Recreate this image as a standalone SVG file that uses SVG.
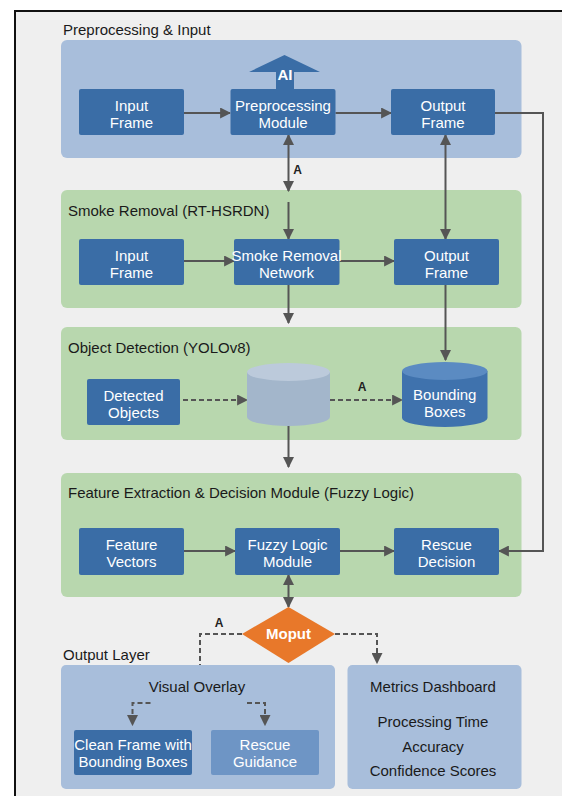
<svg xmlns="http://www.w3.org/2000/svg" width="562" height="796" viewBox="0 0 562 796">
<defs>
<style>
.bg{fill:#efefef}
.pb{fill:#a8bedb}
.pg{fill:#b8d7ae}
.node{fill:#3a6da6}
.t{font-family:"Liberation Sans",Arial,sans-serif;font-size:15px;fill:#ffffff;text-anchor:middle}
.title{font-family:"Liberation Sans",Arial,sans-serif;font-size:15px;fill:#1a1a1a}
.dk{font-family:"Liberation Sans",Arial,sans-serif;font-size:15px;fill:#1a1a1a;text-anchor:middle}
.lbl{font-family:"Liberation Sans",Arial,sans-serif;font-size:12px;font-weight:bold;fill:#222;text-anchor:middle}
.c{fill:none;stroke:#555;stroke-width:2}
.d{fill:none;stroke:#555;stroke-width:2;stroke-dasharray:5,3}
</style>
<marker id="ah" viewBox="0 0 10 10" refX="9" refY="5" markerWidth="5.5" markerHeight="5.5" orient="auto-start-reverse" markerUnits="strokeWidth">
<path d="M0,0 L10,5 L0,10 z" fill="#555"/>
</marker>
</defs>
<rect x="0" y="0" width="562" height="796" fill="#ffffff"/>
<rect class="bg" x="15" y="11" width="560" height="800" stroke="#111" stroke-width="2"/>

<g id="panel-preprocessing">
<rect class="pb" x="61" y="40" width="460.5" height="118" rx="6"/>
<text class="title" x="63" y="35">Preprocessing &amp; Input</text>
</g>
<g id="panel-smoke">
<rect class="pg" x="61" y="190" width="460.5" height="118" rx="6"/>
<text class="title" x="68" y="216">Smoke Removal (RT-HSRDN)</text>
</g>
<g id="panel-detection">
<rect class="pg" x="61" y="327" width="460.5" height="113" rx="6"/>
<text class="title" x="68" y="353">Object Detection (YOLOv8)</text>
</g>
<g id="panel-feature">
<rect class="pg" x="61" y="473" width="460.5" height="124" rx="6"/>
<text class="title" x="68" y="498">Feature Extraction &amp; Decision Module (Fuzzy Logic)</text>
</g>
<g id="panel-output">
<text class="title" x="63" y="660">Output Layer</text>
</g>
<g id="visual-overlay">
<rect class="pb" x="61" y="665" width="274" height="124" rx="5"/>
<text class="dk" x="197" y="692">Visual Overlay</text>
</g>
<g id="metrics-dashboard">
<rect class="pb" x="347.5" y="665" width="174" height="124" rx="5"/>
<text class="dk" x="433" y="692">Metrics Dashboard</text>
<text class="dk" x="433" y="727">Processing Time</text>
<text class="dk" x="433" y="752">Accuracy</text>
<text class="dk" x="433" y="776">Confidence Scores</text>
</g>

<g id="connectors">
<line class="c" x1="184" y1="113" x2="230" y2="113" marker-end="url(#ah)"/>
<line class="c" x1="335.5" y1="113" x2="391" y2="113" marker-end="url(#ah)"/>
<line class="c" x1="288.5" y1="135" x2="288.5" y2="191" marker-start="url(#ah)" marker-end="url(#ah)"/>
<line class="c" x1="445.5" y1="135" x2="445.5" y2="239" marker-start="url(#ah)" marker-end="url(#ah)"/>
<path class="c" d="M495,113 H543 V551 H499" marker-end="url(#ah)"/>
<line class="c" x1="288.5" y1="202" x2="288.5" y2="239" marker-end="url(#ah)"/>
<line class="c" x1="184" y1="261" x2="234" y2="261" marker-end="url(#ah)"/>
<line class="c" x1="339.5" y1="261" x2="394" y2="261" marker-end="url(#ah)"/>
<line class="c" x1="288.5" y1="285" x2="288.5" y2="323" marker-end="url(#ah)"/>
<line class="c" x1="445.5" y1="285" x2="445.5" y2="360" marker-end="url(#ah)"/>
<line class="d" x1="183" y1="400" x2="247" y2="400" marker-end="url(#ah)"/>
<line class="d" x1="330" y1="400" x2="402" y2="400" marker-end="url(#ah)"/>
<line class="c" x1="288.5" y1="426" x2="288.5" y2="467" marker-end="url(#ah)"/>
<line class="c" x1="184" y1="551" x2="235" y2="551" marker-end="url(#ah)"/>
<line class="c" x1="340" y1="551" x2="394" y2="551" marker-end="url(#ah)"/>
<line class="c" x1="288.5" y1="575" x2="288.5" y2="607" marker-start="url(#ah)" marker-end="url(#ah)"/>
<path class="d" d="M242,634 H200 V665"/>
<path class="d" d="M335,634 H377 V663" marker-end="url(#ah)"/>
<path class="d" d="M150.5,703 H132.5 V725" marker-end="url(#ah)"/>
<path class="d" d="M247,703 H265 V725" marker-end="url(#ah)"/>
<text class="lbl" x="297.5" y="174">A</text>
<text class="lbl" x="362" y="391">A</text>
<text class="lbl" x="219" y="627">A</text>
</g>

<g id="ai-arrow">
<path d="M276,90 V72 H249 L284.5,55 L320,72 H294 V90 Z" fill="#3a6da6"/>
<text class="t" x="285" y="80" font-weight="bold" font-size="14">AI</text>
</g>

<g id="input-frame-1">
<rect class="node" x="79" y="89" width="105" height="46" rx="2"/>
<text class="t" x="131.5" y="110.5">Input<tspan x="131.5" dy="17">Frame</tspan></text>
</g>
<g id="preprocessing-module">
<rect class="node" x="230.5" y="89" width="105" height="46" rx="2"/>
<text class="t" x="283" y="110.5">Preprocessing<tspan x="283" dy="17">Module</tspan></text>
</g>
<g id="output-frame-1">
<rect class="node" x="391" y="89" width="104" height="46" rx="2"/>
<text class="t" x="443" y="110.5">Output<tspan x="443" dy="17">Frame</tspan></text>
</g>

<g id="input-frame-2">
<rect class="node" x="79" y="239" width="105" height="46" rx="2"/>
<text class="t" x="131.5" y="260.5">Input<tspan x="131.5" dy="17">Frame</tspan></text>
</g>
<g id="smoke-removal-network">
<rect class="node" x="234" y="239" width="105.5" height="46" rx="2"/>
<text class="t" x="286.5" y="260.5">Smoke Removal<tspan x="286.5" dy="17">Network</tspan></text>
</g>
<g id="output-frame-2">
<rect class="node" x="394" y="239" width="105" height="46" rx="2"/>
<text class="t" x="446.5" y="260.5">Output<tspan x="446.5" dy="17">Frame</tspan></text>
</g>

<g id="detected-objects">
<rect class="node" x="87" y="379" width="93" height="46" rx="2"/>
<text class="t" x="133.5" y="400.5">Detected<tspan x="133.5" dy="17">Objects</tspan></text>
</g>
<g id="database">
<path d="M247,372 V417 A41.5,9 0 0 0 330,417 V372 Z" fill="#a3b6cb"/>
<ellipse cx="288.5" cy="372" rx="41.5" ry="9" fill="#bccadb"/>
</g>
<g id="bounding-boxes">
<path d="M402,371 V418 A42.75,9 0 0 0 487.5,418 V371 Z" fill="#3f72ad"/>
<ellipse cx="444.75" cy="371" rx="42.75" ry="9" fill="#5b8bc2"/>
<text class="t" x="444.75" y="400">Bounding<tspan x="444.75" dy="17">Boxes</tspan></text>
</g>

<g id="feature-vectors">
<rect class="node" x="79" y="528" width="105" height="47" rx="2"/>
<text class="t" x="131.5" y="550">Feature<tspan x="131.5" dy="17">Vectors</tspan></text>
</g>
<g id="fuzzy-logic-module">
<rect class="node" x="235" y="528" width="105" height="47" rx="2"/>
<text class="t" x="287.5" y="550">Fuzzy Logic<tspan x="287.5" dy="17">Module</tspan></text>
</g>
<g id="rescue-decision">
<rect class="node" x="394" y="528" width="105" height="47" rx="2"/>
<text class="t" x="446.5" y="550">Rescue<tspan x="446.5" dy="17">Decision</tspan></text>
</g>

<g id="moput">
<polygon points="288.5,607 335,634 288.5,663 242,634" fill="#e8782a"/>
<text class="t" x="288.5" y="639" font-weight="bold" fill="#fdf1e4">Moput</text>
</g>

<g id="clean-frame">
<rect x="74" y="730" width="118" height="45" rx="2" fill="#3b6da6"/>
<text class="t" x="133" y="750">Clean Frame with<tspan x="133" dy="17">Bounding Boxes</tspan></text>
</g>
<g id="rescue-guidance">
<rect x="211" y="730" width="108" height="45" rx="2" fill="#6e95c5"/>
<text class="t" x="265" y="750">Rescue<tspan x="265" dy="17">Guidance</tspan></text>
</g>
</svg>
